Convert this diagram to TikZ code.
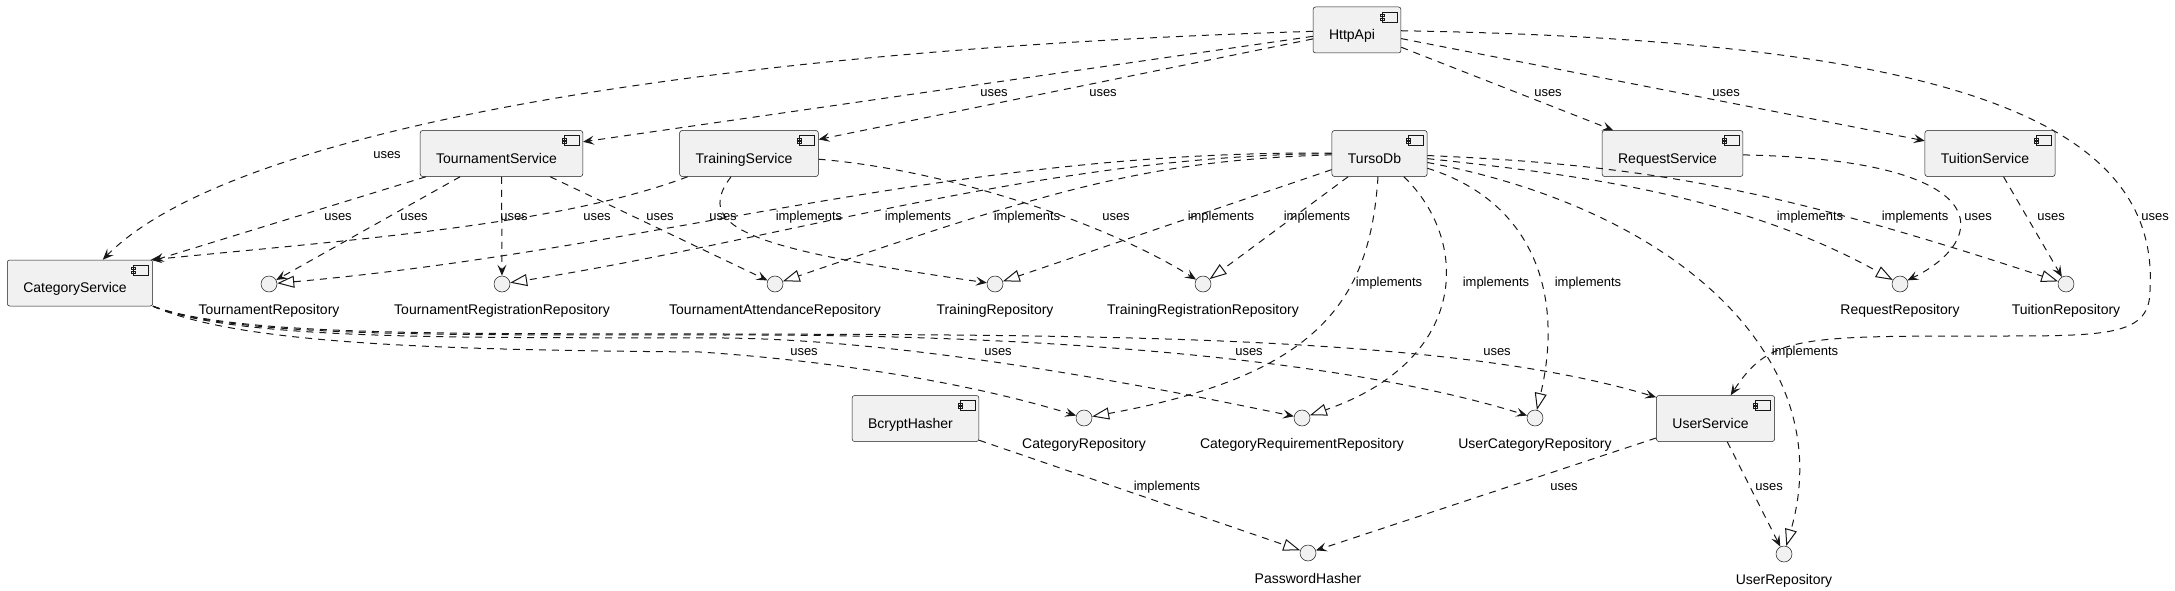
\documentclass[tikz,border=0pt]{standalone}
\usepackage{fontspec}
\setmainfont{Liberation Sans}
\definecolor{compfill}{HTML}{F1F1F1}
\definecolor{ink}{HTML}{181818}
\usepackage{tikz}
\usepackage{xcolor}
\usetikzlibrary{arrows.meta,positioning}
\newcommand{\compicon}{%
    \draw[ink, line width=0.5pt, fill=compfill, sharp corners]
        ([xshift=-19pt,yshift=-5pt]path picture bounding box.north east) rectangle ++(15pt,-10pt)
        ([xshift=-21pt,yshift=-7.5pt]path picture bounding box.north east) rectangle ++(4pt,-2pt)
        ([xshift=-21pt,yshift=-11pt]path picture bounding box.north east) rectangle ++(4pt,-2pt);}

\begin{document}
\begin{tikzpicture}[x=1pt, y=-1pt,
        comp/.style={draw=ink, line width=0.5pt, fill=compfill, rounded corners=2.5pt,
            minimum height=46pt, inner xsep=16pt, inner ysep=0pt, text height=21pt, text depth=2pt,
            font=\fontsize{14}{16}\selectfont, execute at end node={\hspace*{10pt}},
            path picture={\compicon}},
        iface/.style={circle, draw=ink, line width=0.5pt, fill=compfill, minimum size=16pt, inner sep=0pt},
        ilabel/.style={font=\fontsize{14}{16}\selectfont, inner sep=0pt, text height=10pt, text depth=3pt},
        wire/.style={draw=ink, line width=1pt, dash pattern=on 7pt off 6pt},
        uses/.style={wire, -{Stealth[length=11pt, width=9pt, inset=4.5pt]}},
        impl/.style={wire, -{Triangle[open, fill=white, length=17pt, width=12pt]}},
        elbl/.style={font=\fontsize{13}{15}\selectfont, inner sep=0pt, text=black}]
    \useasboundingbox[fill=white] (0,0) rectangle (2175,591);

    % components
    \node[comp] (api) at (1357,30) {HttpApi};
    \node[comp] (tsvc) at (501.5,153.5) {TournamentService};
    \node[comp] (trsvc) at (749,153.5) {TrainingService};
    \node[comp] (db) at (1379.5,153.5) {TursoDb};
    \node[comp] (rsvc) at (1672.5,153.5) {RequestService};
    \node[comp] (tusvc) at (1990,153.5) {TuitionService};
    \node[comp] (csvc) at (80,283) {CategoryService};
    \node[comp] (bcrypt) at (915.5,418.5) {BcryptHasher};
    \node[comp] (usvc) at (1715.5,418.5) {UserService};

    % interfaces
    \node[iface] (trepo) at (269,284) {};
    \node[iface] (tregrepo) at (502,284) {};
    \node[iface] (tattrepo) at (775,284) {};
    \node[iface] (trainrepo) at (995,284) {};
    \node[iface] (trainregrepo) at (1203,284) {};
    \node[iface] (reqrepo) at (1900,284) {};
    \node[iface] (tuitrepo) at (2066,284) {};
    \node[iface] (catrepo) at (1084,418) {};
    \node[iface] (catreqrepo) at (1302,418) {};
    \node[iface] (ucatrepo) at (1535,418) {};
    \node[iface] (pwhash) at (1308,553) {};
    \node[iface] (urepo) at (1784,554) {};

    \node[ilabel, below=12pt of trepo] (trepo-name) {TournamentRepository};
    \node[ilabel, below=12pt of tregrepo] (tregrepo-name) {TournamentRegistrationRepository};
    \node[ilabel, below=12pt of tattrepo] (tattrepo-name) {TournamentAttendanceRepository};
    \node[ilabel, below=12pt of trainrepo] (trainrepo-name) {TrainingRepository};
    \node[ilabel, below=12pt of trainregrepo] (trainregrepo-name) {TrainingRegistrationRepository};
    \node[ilabel, below=12pt of reqrepo] (reqrepo-name) {RequestRepository};
    \node[ilabel, below=12pt of tuitrepo] (tuitrepo-name) {TuitionRepository};
    \node[ilabel, below=12pt of catrepo] (catrepo-name) {CategoryRepository};
    \node[ilabel, below=12pt of catreqrepo] (catreqrepo-name) {CategoryRequirementRepository};
    \node[ilabel, below=12pt of ucatrepo] (ucatrepo-name) {UserCategoryRepository};
    \node[ilabel, below=12pt of pwhash] (pwhash-name) {PasswordHasher};
    \node[ilabel, below=12pt of urepo] (urepo-name) {UserRepository};

    % HttpApi
    \draw[uses] (api) .. controls (700,50) and (230,130) .. (csvc) node[elbl, at={(387,155)}] (l1) {uses};
    \draw[uses] (api) -- (tsvc) node[elbl, at={(994,93)}] (l2) {uses};
    \draw[uses] (api) -- (trsvc) node[elbl, at={(1103,93)}] (l3) {uses};
    \draw[uses] (api) -- (rsvc) node[elbl, at={(1548,93)}] (l4) {uses};
    \draw[uses] (api) -- (tusvc) node[elbl, at={(1726,93)}] (l5) {uses};
    \draw[uses] (api) .. controls (1950,40) and (2160,120) .. (2150,290)
        .. controls (2150,335) and (2110,336) .. (2000,336)
        .. controls (1800,336) and (1770,335) .. (usvc) node[elbl, at={(2155,217)}] (l6) {uses};

    % TournamentService / TrainingService
    \draw[uses] (tsvc) -- (csvc) node[elbl, at={(338,217)}] (l7) {uses};
    \draw[uses] (tsvc) -- (trepo) node[elbl, at={(414,217)}] (l8) {uses};
    \draw[uses] (tsvc) -- (tregrepo) node[elbl, at={(514,217)}] (l9) {uses};
    \draw[uses] (tsvc) -- (tattrepo) node[elbl, at={(660,217)}] (l10) {uses};
    \draw[uses] (trsvc) .. controls (560,225) and (350,240) .. ([xshift=-2pt]csvc.north east) node[elbl, at={(597,217)}] (l11) {uses};
    \draw[uses] (trsvc) .. controls (690,230) and (760,250) .. (trainrepo) node[elbl, at={(723,217)}] (l12) {uses};
    \draw[uses] (trsvc) .. controls (950,170) and (1110,225) .. (trainregrepo) node[elbl, at={(1116,217)}] (l13) {uses};

    % TursoDb
    \draw[impl] (db) .. controls (950,150) and (650,250) .. (trepo) node[elbl, at={(809,217)}] (l14) {implements};
    \draw[impl] (db) .. controls (1050,155) and (780,240) .. (tregrepo) node[elbl, at={(918,217)}] (l15) {implements};
    \draw[impl] (db) .. controls (1150,160) and (1050,190) .. (tattrepo) node[elbl, at={(1027,217)}] (l16) {implements};
    \draw[impl] (db) -- (trainrepo) node[elbl, at={(1221,217)}] (l17) {implements};
    \draw[impl] (db) -- (trainregrepo) node[elbl, at={(1317,217)}] (l18) {implements};
    \draw[impl] (db) .. controls (1370,300) and (1320,375) .. (catrepo) node[elbl, at={(1389,283)}] (l19) {implements};
    \draw[impl] (db) .. controls (1470,240) and (1470,360) .. (catreqrepo) node[elbl, at={(1496,283)}] (l20) {implements};
    \draw[impl] (db) .. controls (1530,200) and (1565,290) .. (ucatrepo) node[elbl, at={(1588,283)}] (l21) {implements};
    \draw[impl] (db) .. controls (1680,210) and (1840,360) .. (urepo) node[elbl, at={(1805,352)}] (l22) {implements};
    \draw[impl] (db) .. controls (1580,175) and (1740,195) .. (reqrepo) node[elbl, at={(1810,217)}] (l23) {implements};
    \draw[impl] (db) .. controls (1650,165) and (1780,190) .. (tuitrepo) node[elbl, at={(1915,217)}] (l24) {implements};

    % RequestService / TuitionService
    \draw[uses] (rsvc) .. controls (2000,160) and (1990,240) .. (reqrepo) node[elbl, at={(1978,217)}] (l25) {uses};
    \draw[uses] (tusvc) -- (tuitrepo) node[elbl, at={(2051,217)}] (l26) {uses};

    % CategoryService
    \draw[uses] (csvc.south east) .. controls (240,345) and (450,350) .. (700,352)
        .. controls (820,360) and (960,380) .. (catrepo) node[elbl, at={(804,352)}] (l27) {uses};
    \draw[uses] (csvc.south east) .. controls (240,342) and (480,337) .. (725,338)
        .. controls (900,340) and (1120,380) .. (catreqrepo) node[elbl, at={(998,352)}] (l28) {uses};
    \draw[uses] (csvc.south east) .. controls (240,340) and (480,334) .. (725,335)
        .. controls (1050,334) and (1350,360) .. (ucatrepo) node[elbl, at={(1249,352)}] (l29) {uses};
    \draw[uses] (csvc.south east) .. controls (240,338) and (480,333) .. (725,334)
        .. controls (1100,335) and (1450,335) .. ([yshift=-2pt]usvc.north west) node[elbl, at={(1497,352)}] (l30) {uses};

    % BcryptHasher / UserService
    \draw[impl] (bcrypt) -- (pwhash) node[elbl, at={(1167,487)}] (l31) {implements};
    \draw[uses] (usvc) -- (pwhash) node[elbl, at={(1564,487)}] (l32) {uses};
    \draw[uses] (usvc) -- (urepo) node[elbl, at={(1769,487)}] (l33) {uses};
\end{tikzpicture}
\end{document}
